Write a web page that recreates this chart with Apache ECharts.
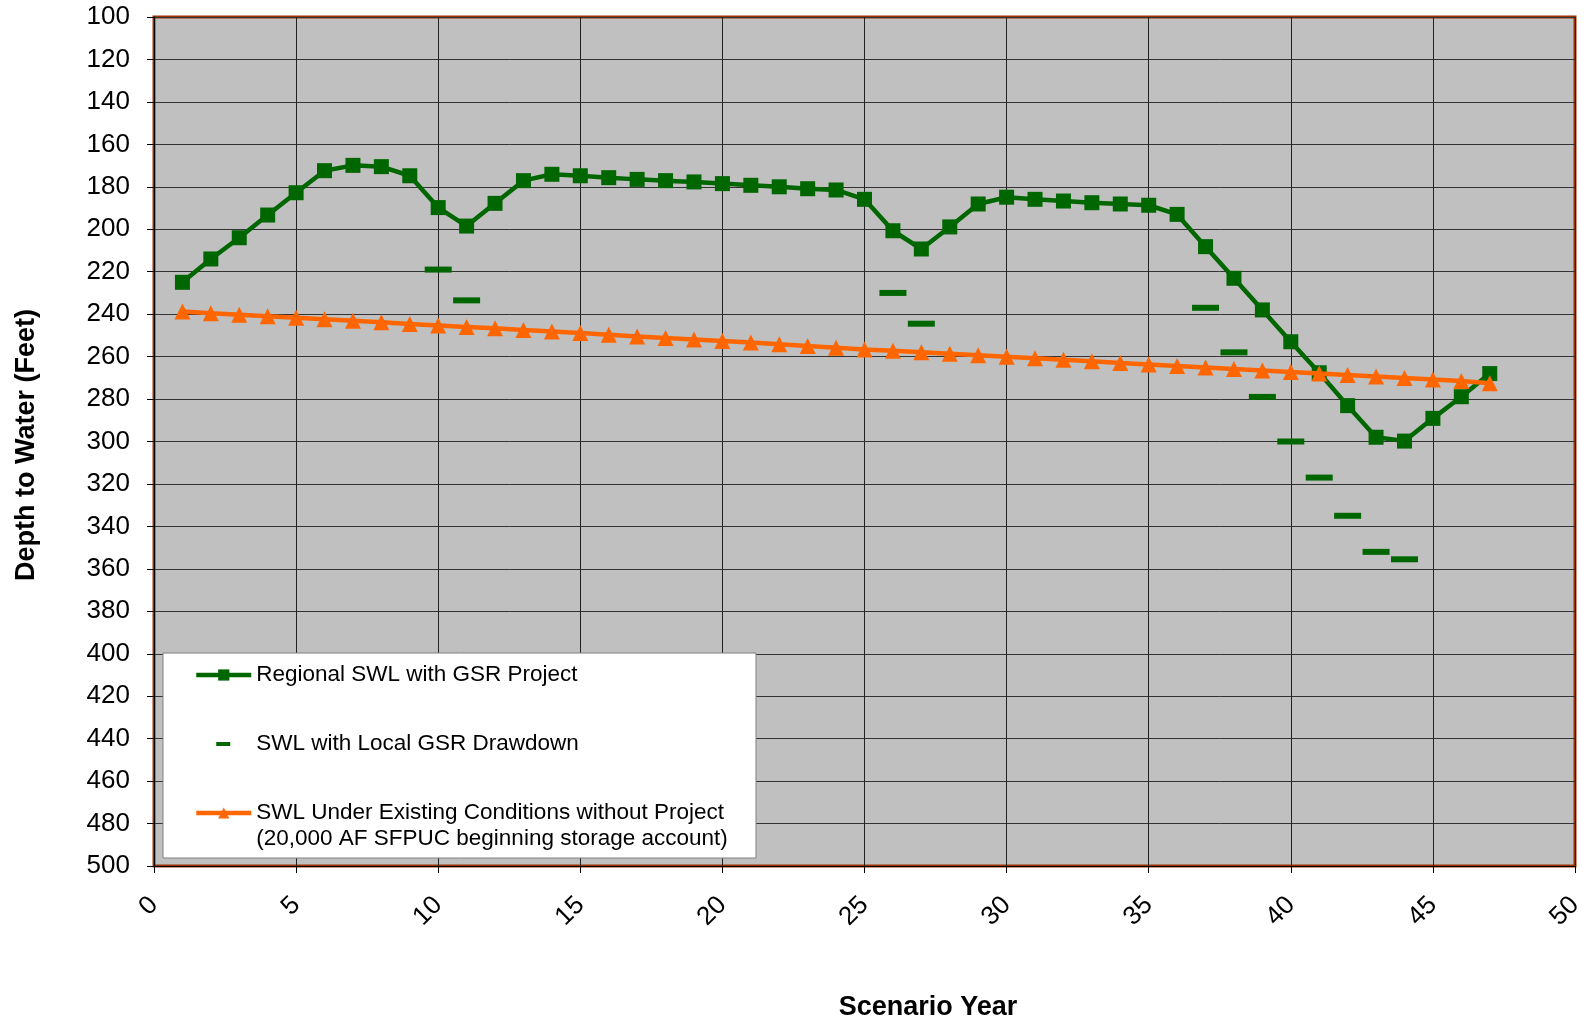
<!DOCTYPE html>
<html>
<head>
<meta charset="utf-8">
<script src="https://cdn.jsdelivr.net/npm/echarts@6/dist/echarts.min.js"></script>
<style>html,body{margin:0;padding:0;background:#fff;}#c{width:1587px;height:1024px;}</style>
</head>
<body>
<div id="c"></div>
<script>
const years = [1,2,3,4,5,6,7,8,9,10,11,12,13,14,15,16,17,18,19,20,21,22,23,24,25,26,27,28,29,30,31,32,33,34,35,36,37,38,39,40,41,42,43,44,45,46,47];
const regionalSWL = [225,214,204,193.3,182.8,172.4,169.9,170.5,174.8,189.8,
  198.5,187.8,177.1,174.1,174.8,175.7,176.5,177.1,177.7,178.5,
  179.3,180,180.9,181.5,185.9,200.7,209.3,198.9,188.1,184.9,
  185.9,186.7,187.5,188.1,188.7,193.0,208.2,223.1,238.0,253.0,
  267.6,283.1,298.0,299.8,289.1,278.9,268.0];
const localYears = [10,11,26,27,37,38,39,40,41,42,43,44];
const localSWL = [219,233.5,230,244.5,237,258,279,300,317,335,352,355.5];
const existingSWL = [238.8,239.6,240.3,241.0,241.7,242.4,243.1,243.8,244.6,245.3,
  246.0,246.7,247.5,248.2,248.9,249.7,250.5,251.2,252.0,252.7,
  253.4,254.2,255.0,255.8,256.6,257.3,258.0,258.7,259.4,260.1,
  260.8,261.5,262.2,263.0,263.7,264.4,265.1,265.8,266.5,267.3,
  268.0,268.7,269.4,270.1,270.8,271.5,272.5];
const nameRegional = 'Regional SWL with GSR Project';
const nameLocal = 'SWL with Local GSR Drawdown';
const nameExisting = 'SWL Under Existing Conditions without Project\n(20,000 AF SFPUC beginning storage account)';
const xTitle = 'Scenario Year';
const yTitle = 'Depth to Water (Feet)';

const FONT = '"Liberation Sans", Arial, sans-serif';
const GREEN = '#006600', ORANGE = '#FF6600';

const chart = echarts.init(document.getElementById('c'), null, {renderer: 'canvas'});
chart.setOption({
  animation: false,
  backgroundColor: '#ffffff',
  textStyle: {fontFamily: FONT},
  grid: {left: 154, top: 17, width: 1421, height: 849, show: true,
    backgroundColor: '#C0C0C0', borderColor: '#993300', borderWidth: 3},
  xAxis: {type: 'value', min: 0, max: 50, interval: 5,
    axisLine: {show: true, onZero: false, lineStyle: {color: '#000', width: 1}},
    axisTick: {show: true, length: 7, lineStyle: {color: '#000'}},
    axisLabel: {rotate: 45, margin: 35, fontSize: 26, color: '#000', fontFamily: FONT},
    splitLine: {show: true, lineStyle: {color: '#222', width: 1}}},
  yAxis: {type: 'value', inverse: true, min: 100, max: 500, interval: 20,
    axisLine: {show: true, onZero: false, lineStyle: {color: '#000', width: 1}},
    axisTick: {show: true, length: 7, lineStyle: {color: '#000'}},
    axisLabel: {margin: 24, fontSize: 26, color: '#000', fontFamily: FONT},
    splitLine: {show: true, lineStyle: {color: '#333', width: 1}}},
  legend: [
    {orient: 'vertical', left: 194, top: 662, padding: 0, itemGap: 43,
     itemWidth: 55, itemHeight: 14, z: 10,
     lineStyle: {width: 4.5},
     textStyle: {fontSize: 22.5, lineHeight: 26, color: '#000', fontFamily: FONT},
     data: [{name: nameRegional},
            {name: nameLocal, icon: 'path://M0,0M55,14M20,5h14v4h-14z'}]},
    {orient: 'vertical', left: 194, top: 774, padding: 0,
     itemWidth: 55, itemHeight: 14, z: 10,
     lineStyle: {width: 4.5},
     formatter: function (n) { return '\n' + n; },
     textStyle: {fontSize: 22.5, lineHeight: 26, color: '#000', fontFamily: FONT},
     data: [{name: nameExisting}]}
  ],
  graphic: [
    {type: 'rect', z: 3, shape: {x: 163, y: 653, width: 593, height: 205},
     style: {fill: '#ffffff', stroke: '#808080', lineWidth: 1}},
    {type: 'text', x: 928, y: 1008, z: 10,
     style: {text: xTitle, font: 'bold 27px ' + FONT, textAlign: 'center', align: 'center',
       textVerticalAlign: 'middle', verticalAlign: 'middle', fill: '#000'}},
    {type: 'text', x: 27, y: 445, rotation: Math.PI / 2, z: 10,
     style: {text: yTitle, font: 'bold 27px ' + FONT, textAlign: 'center', align: 'center',
       textVerticalAlign: 'middle', verticalAlign: 'middle', fill: '#000'}}
  ],
  series: [
    {name: nameRegional, type: 'line', data: years.map((x, i) => [x, regionalSWL[i]]),
     symbol: 'rect', symbolSize: 15, color: GREEN,
     lineStyle: {color: GREEN, width: 4.5}, itemStyle: {color: GREEN}, z: 3},
    {name: nameLocal, type: 'scatter', data: localYears.map((x, i) => [x, localSWL[i]]),
     symbol: 'rect', symbolSize: [27, 6], color: GREEN, itemStyle: {color: GREEN, opacity: 1}, z: 3},
    {name: nameExisting, type: 'line', data: years.map((x, i) => [x, existingSWL[i]]),
     symbol: 'triangle', symbolSize: 16, color: ORANGE,
     lineStyle: {color: ORANGE, width: 4.5}, itemStyle: {color: ORANGE}, z: 4}
  ]
});
</script>
</body>
</html>
